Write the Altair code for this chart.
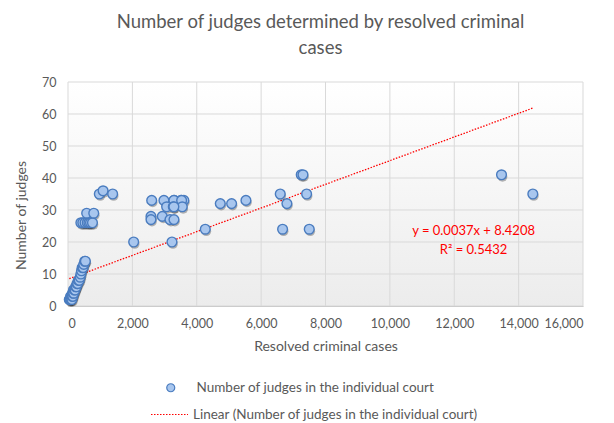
import altair as alt
import pandas as pd

# ---- data ----
cases = [40, 60, 80, 90, 100, 110, 120, 130, 140, 150, 160, 170, 180, 200, 220,
         240, 260, 280, 300, 320, 350, 380, 400, 420, 440, 470, 490, 520, 540,
         400, 460, 530, 600, 650, 700, 760, 580, 800,
         973, 1090, 1387,
         2600, 2980, 3300, 3510, 3600, 3290, 3530,
         3064, 3271, 3550, 3290,
         2578, 2930, 2578, 3168, 3292,
         2040, 3230, 4265,
         4731, 5083, 6801, 5528,
         6594, 7413, 14441,
         7246, 7300, 13468,
         6667, 7495]
judges = [2, 2, 3, 2, 3, 3, 2, 3, 4, 3, 4, 5, 4, 5, 5,
          6, 6, 7, 7, 8, 8, 9, 10, 11, 12, 12, 13, 14, 14,
          26, 26, 26, 26, 26, 26, 26, 29, 29,
          35, 36, 35,
          33, 33, 33, 33, 33, 33, 33,
          31, 31, 31, 31,
          28, 28, 27, 27, 27,
          20, 20, 24,
          32, 32, 32, 33,
          35, 35, 35,
          41, 41, 41,
          24, 24]

slope = 0.0037
intercept = 8.4208
r2 = 0.5432

x_ticks = [0, 2000, 4000, 6000, 8000, 10000, 12000, 14000, 16000]
y_ticks = [0, 10, 20, 30, 40, 50, 60, 70]

series_name = "Number of judges in the individual court"
trend_name = "Linear (Number of judges in the individual court)"

ann_x = [12600, 12600]
ann_y = [23.4, 17.5]
ann_text = [f"y = {slope}x + {intercept}", f"R\u00b2 = {r2}"]

FONT = "Lato"
GREY = "#595959"

pts = pd.DataFrame({"cases": cases, "judges": judges, "series": series_name})
xmin, xmax = min(cases), max(cases)
trend = pd.DataFrame({"cases": [xmin, xmax],
                      "judges": [slope * xmin + intercept, slope * xmax + intercept],
                      "trend": trend_name})
ann = pd.DataFrame({"cases": ann_x, "judges": ann_y, "t": ann_text})

xscale = alt.Scale(domain=[0, 16000], nice=False)
yscale = alt.Scale(domain=[0, 70], nice=False)

xaxis = alt.Axis(title="Resolved criminal cases", values=x_ticks,
                 labelExpr="format(datum.value, ',')", grid=False,
                 ticks=False, domainColor="#bfbfbf", labelPadding=11, titlePadding=10,
                 titleFontWeight="normal")
yaxis = alt.Axis(title="Number of judges", values=y_ticks, grid=False, ticks=False,
                 domainColor="#bfbfbf", labelPadding=12, titlePadding=13, titleY=133,
                 titleFontWeight="normal")

bg = alt.Chart(pd.DataFrame({"a": [0]})).mark_rect(
    color=alt.Gradient(gradient="linear", x1=0, x2=0, y1=0, y2=1,
                       stops=[alt.GradientStop(color="#ffffff", offset=0),
                              alt.GradientStop(color="#ececec", offset=1)])
).encode(x=alt.value(0), x2=alt.value("width"), y=alt.value(0), y2=alt.value("height"))

vgrid = alt.Chart(pd.DataFrame({"v": x_ticks})).mark_rule(color="#d9d9d9", strokeWidth=1).encode(
    x=alt.X("v:Q", scale=xscale, axis=xaxis))
hgrid = alt.Chart(pd.DataFrame({"v": y_ticks})).mark_rule(color="#d9d9d9", strokeWidth=1).encode(
    y=alt.Y("v:Q", scale=yscale, axis=yaxis))

line = alt.Chart(trend).mark_line(color="#ff0000", strokeWidth=1.3).encode(
    x=alt.X("cases:Q", scale=xscale, axis=xaxis),
    y=alt.Y("judges:Q", scale=yscale, axis=yaxis),
    strokeDash=alt.StrokeDash("trend:N",
        scale=alt.Scale(domain=[trend_name], range=[[1.5, 1.5]]),
        legend=alt.Legend(title=None, orient="none", legendX=82, legendY=313,
                          symbolType="stroke", symbolSize=1369, symbolStrokeColor="#ff0000",
                          symbolStrokeWidth=1.2, symbolDash=[1.2, 1.2], labelLimit=500,
                          labelFont=FONT, labelFontSize=13.5, labelColor=GREY, labelOffset=4)),
)

shadow = alt.Chart(pts).mark_point(filled=True, shape="circle", size=95, color="#000000",
                                   opacity=0.28, xOffset=1, yOffset=2).encode(
    x=alt.X("cases:Q", scale=xscale, axis=xaxis), y=alt.Y("judges:Q", scale=yscale, axis=yaxis))

points = alt.Chart(pts).mark_point(filled=True, shape="circle", size=95, opacity=1,
                                   stroke="#4a7cbf", strokeWidth=1.4).encode(
    x=alt.X("cases:Q", scale=xscale, axis=xaxis),
    y=alt.Y("judges:Q", scale=yscale, axis=yaxis),
    color=alt.Color("series:N", scale=alt.Scale(domain=[series_name], range=["#a8c6ee"]),
                    legend=alt.Legend(title=None, orient="none", legendX=96, legendY=299,
                                      symbolType="circle", symbolSize=64, labelLimit=500,
                                      symbolStrokeColor="#4a7cbf", symbolStrokeWidth=1.2,
                                      symbolFillColor="#a8c6ee", symbolOpacity=1,
                                      labelFont=FONT, labelFontSize=13.5, labelColor=GREY,
                                      labelOffset=19)),
)

text = alt.Chart(ann).mark_text(color="#ff0000", font=FONT, fontSize=13, align="center",
                                baseline="middle").encode(
    x=alt.X("cases:Q", scale=xscale, axis=xaxis), y=alt.Y("judges:Q", scale=yscale, axis=yaxis),
    text="t:N")

chart = alt.layer(bg, vgrid, hgrid, line, shadow, points, text).properties(
    width=515, height=224,
    background="white",
    title=alt.TitleParams(text=["Number of judges determined by resolved criminal", "cases"],
                          font=FONT, fontSize=18.5, fontWeight="normal", color=GREY,
                          anchor="middle", offset=19, lineHeight=26, dx=-5),
    autosize=alt.AutoSizeParams(type="none"),
    padding={"left": 60, "top": 74, "right": 23, "bottom": 125},
).configure_view(stroke=None).configure_axis(
    labelFont=FONT, labelFontSize=12.5, labelColor=GREY,
    titleFont=FONT, titleFontSize=14, titleColor=GREY, titleFontWeight="normal",
)

chart.save("out.html", embed_options={"renderer": "svg", "actions": False})
